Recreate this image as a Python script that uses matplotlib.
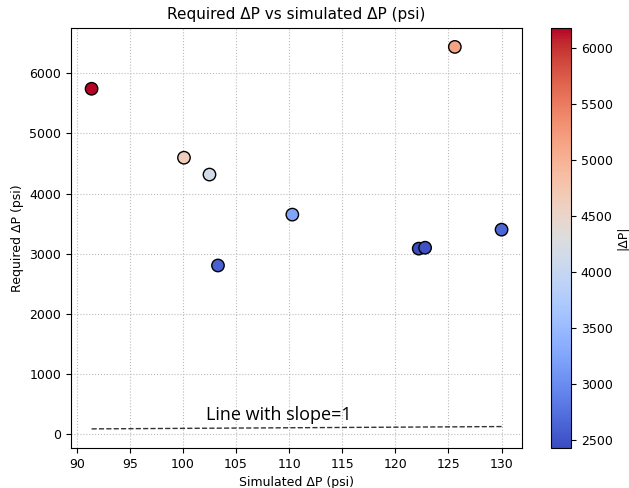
import matplotlib
matplotlib.use("Agg")
import matplotlib.pyplot as plt
import numpy as np

# simulated vs required pressure drop
simulated_dp = [91.4, 125.6, 100.1, 102.5, 110.3, 103.3, 122.2, 122.8, 130.0]
required_dp = [5740, 6435, 4595, 4315, 3650, 2805, 3085, 3100, 3400]
abs_dp = [6180, 5150, 4620, 4150, 3250, 2620, 2430, 2480, 2650]

fig = plt.figure(figsize=(6.29, 4.88), dpi=100)
ax = fig.add_axes([0.113, 0.082, 0.717, 0.861])
cax = fig.add_axes([0.876, 0.082, 0.032, 0.861])

sc = ax.scatter(simulated_dp, required_dp, c=abs_dp, cmap="coolwarm",
                s=80, edgecolors="black", linewidths=1, zorder=3)

# reference line y = x
xl = np.array([min(simulated_dp), max(simulated_dp)])
ax.plot(xl, xl, "k--", lw=1, alpha=0.8)
ax.text(102.2, 170, "Line with slope=1", fontsize=13, family="Open Sans",
        va="bottom", ha="left")

ax.set_title("Required ΔP vs simulated ΔP (psi)", fontsize=11)
ax.set_xlabel("Simulated ΔP (psi)", fontsize=9)
ax.set_ylabel("Required ΔP (psi)", fontsize=9)
ax.tick_params(labelsize=9)
ax.grid(True, linestyle=":", color="#bbbbbb")

cb = fig.colorbar(sc, cax=cax)
cb.set_label("|ΔP|", fontsize=9, labelpad=2)
cb.ax.tick_params(labelsize=9)

fig.savefig("out.png", dpi=100)
